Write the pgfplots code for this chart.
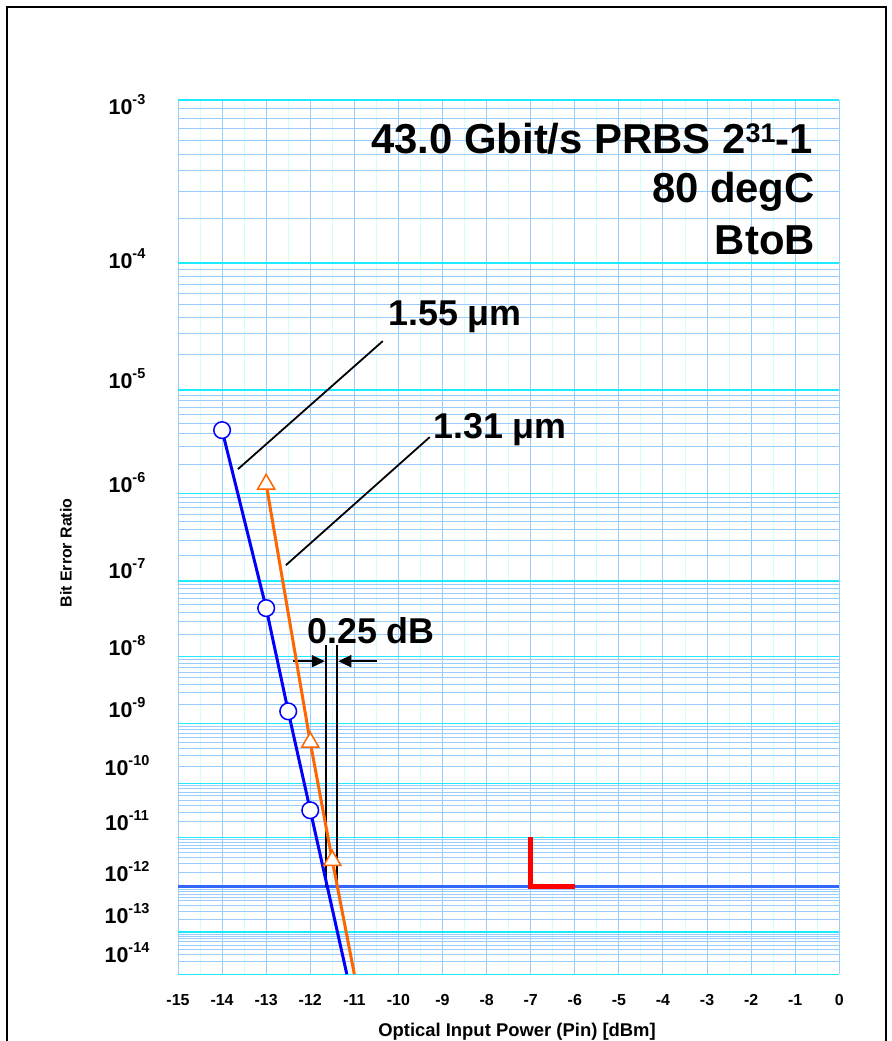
\documentclass[border=0pt]{standalone}
\usepackage{pgfplots}
\usepackage{pgfplotstable}
\pgfplotsset{compat=1.18}
\usepackage{fontspec}
\setmainfont{Liberation Sans}
\usetikzlibrary{arrows.meta}

\definecolor{gmaj}{HTML}{1EEBFF}
\definecolor{gmin}{HTML}{99CCFF}
\definecolor{gxmin}{HTML}{CCFFFF}
\definecolor{thickblue}{HTML}{3366FF}
\definecolor{bl}{HTML}{0000FF}
\definecolor{orng}{HTML}{FF6600}

% q = -log10(BER); plotted at log10(q) (BER scale)
\pgfplotstableread{
x q
-14 5.367
-13 7.345
-12.5 8.809
-12 10.486
}\bluepts
\pgfplotstableread{
x q
-14 5.367
-13 7.345
-12.5 8.809
-12 10.486
-11.17 14
}\blueline
\pgfplotstableread{
x q
-13 5.903
-12 9.301
-11.5 11.455
}\orangepts
\pgfplotstableread{
x q
-13 5.903
-12 9.301
-11.5 11.455
-11.0 14
}\orangeline

\def\minorlist{}
\foreach \m in {4,...,14}{%
  \foreach \k in {2,...,9}{%
    \pgfmathsetmacro\v{log10(\m-log10(\k))}%
    \xdef\minorlist{\ifx\minorlist\empty\else\minorlist,\fi\v}%
  }%
}
\newcommand\tl[1]{10\raisebox{10.5bp}{\fontsize{14.5}{15}\selectfont #1}}

\begin{document}
\begin{tikzpicture}
\useasboundingbox (0,0) rectangle (892bp,-1041bp);
\begin{axis}[
  at={(178bp,-974.3bp)}, anchor=south west,
  scale only axis, width=661.3bp, height=874.3bp,
  xmin=-15, xmax=0,
  ymin=0.4771213, ymax=1.14613, y dir=reverse,
  axis line style={draw=none},
  tick style={draw=none},
  major tick length=0pt, minor tick length=0pt,
  xtick={-15,...,0},
  xticklabels={-15,-14,-13,-12,-11,-10,-9,-8,-7,-6,-5,-4,-3,-2,-1,0},
  minor xtick={-14.5,-13.5,...,-0.5},
  ytick={0.477121,0.602060,0.698970,0.778151,0.845098,0.903090,0.954243,1,1.041393,1.079181,1.113943,1.146128},
  yticklabels={},
  minor ytick=\minorlist,
  xmajorgrids, xminorgrids, ymajorgrids, yminorgrids,
  major x grid style={gmin, line width=1bp},
  minor x grid style={gxmin, line width=1bp},
  major y grid style={gmaj, line width=1.6bp},
  minor y grid style={gmin, line width=0.9bp},
  xticklabel style={anchor=center, yshift=-26bp, font=\bfseries\fontsize{16}{18}\selectfont},
  extra y ticks={0.48822,0.60610,0.69796,0.77756,0.84339,0.90233,0.94979,0.99419,1.03629,1.07533,1.10748,1.13733},
  extra y tick labels={{\tl{-3}},{\tl{-4}},{\tl{-5}},{\tl{-6}},{\tl{-7}},{\tl{-8}},{\tl{-9}},{\tl{-10}},{\tl{-11}},{\tl{-12}},{\tl{-13}},{\tl{-14}}},
  extra y tick style={grid=none, tick label style={anchor=base, xshift=-51bp, font=\bfseries\fontsize{21.5}{24}\selectfont}},
  clip=false,
]
% 1e-12 reference line
\addplot[thickblue, line width=3bp] coordinates {(-15,1.079181) (0,1.079181)};
% red L marker
\addplot[red, line width=5bp] coordinates {(-7,1.041393) (-7,1.079181) (-6,1.079181)};
% annotation lines
\draw[black, line width=1.8bp] (axis cs:-13.640,0.75958) -- (axis cs:-10.355,0.66160);
\draw[black, line width=1.8bp] (axis cs:-12.553,0.83306) -- (axis cs:-9.290,0.73508);
\draw[black, line width=1.8bp] (axis cs:-11.65,0.89430) -- (axis cs:-11.65,1.079181);
\draw[black, line width=1.8bp] (axis cs:-11.385,0.89430) -- (axis cs:-11.385,1.079181);
\draw[black, line width=1.5bp, -{Triangle[length=13bp,width=12bp]}] (axis cs:-12.394,0.90654) -- (axis cs:-11.67,0.90654);
\draw[black, line width=1.5bp, -{Triangle[length=13bp,width=12bp]}] (axis cs:-10.491,0.90654) -- (axis cs:-11.365,0.90654);
% data
\addplot[bl, line width=3bp] table[x=x, y expr={log10(\thisrow{q})}] {\blueline};
\addplot[orng, line width=3bp] table[x=x, y expr={log10(\thisrow{q})}] {\orangeline};
\addplot[only marks, mark=*, mark size=8.3bp, mark options={draw=bl, fill=white, line width=1.5bp}] table[x=x, y expr={log10(\thisrow{q})}] {\bluepts};
\addplot[only marks, mark=triangle*, mark size=9.8bp, mark options={draw=orng, fill=white, line width=1.5bp}] table[x=x, y expr={log10(\thisrow{q})}] {\orangepts};
\end{axis}
% texts
\node[anchor=base east, inner sep=0pt, font=\bfseries\fontsize{42}{49}\selectfont] at (813bp,-153bp) {43.0 Gbit/s PRBS 2\raisebox{11bp}{\fontsize{27}{27}\selectfont 31}-1};
\node[anchor=base east, inner sep=0pt, font=\bfseries\fontsize{42}{49}\selectfont] at (815bp,-202bp) {80 degC};
\node[anchor=base east, inner sep=0pt, font=\bfseries\fontsize{42}{49}\selectfont] at (815bp,-254bp) {BtoB};
\node[anchor=base west, inner sep=0pt, font=\bfseries\fontsize{36}{43}\selectfont] at (388bp,-325bp) {1.55 μm};
\node[anchor=base west, inner sep=0pt, font=\bfseries\fontsize{36}{43}\selectfont] at (433bp,-438bp) {1.31 μm};
\node[anchor=base west, inner sep=0pt, font=\bfseries\fontsize{36}{43}\selectfont] at (307bp,-643bp) {0.25 dB};
\node[rotate=90, anchor=center, inner sep=0pt, font=\bfseries\fontsize{16}{18}\selectfont] at (66bp,-553bp) {Bit Error Ratio};
\node[anchor=base, inner sep=0pt, font=\bfseries\fontsize{18.5}{20}\selectfont] at (517bp,-1036bp) {Optical Input Power (Pin) [dBm]};
\draw[black, line width=1.5bp] (7bp,-7bp) rectangle (886bp,-1100bp);
\end{tikzpicture}
\end{document}
